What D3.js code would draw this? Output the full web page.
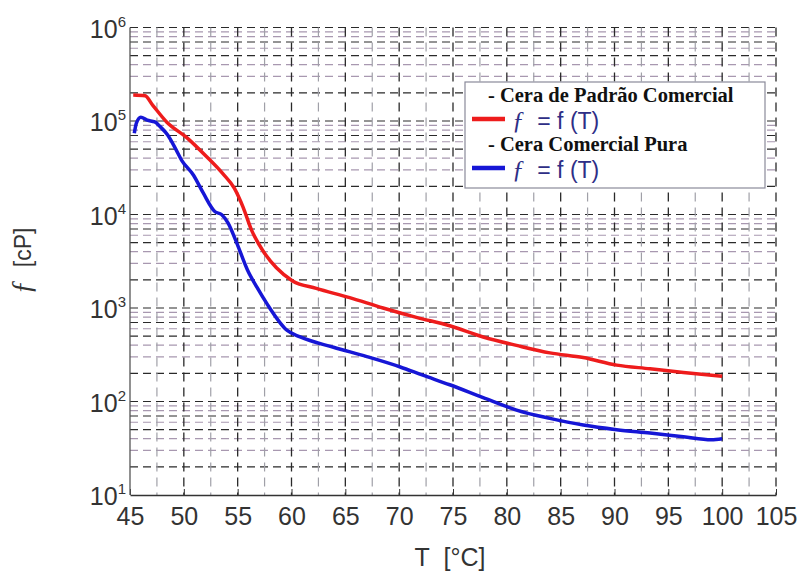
<!DOCTYPE html>
<html>
<head>
<meta charset="utf-8">
<script src="https://cdn.jsdelivr.net/npm/d3@7/dist/d3.min.js"></script>
<style>
  body { margin: 0; background: #fff; }
  svg { display: block; }
</style>
</head>
<body>
<div id="chart"></div>
<script>
//Data: temperature [°C] and viscosity [cP]
var tempRed = [45.3, 46.4, 47.1, 48.4, 50.3, 52.1, 53.6, 54.7, 55.5, 56.3, 57.3, 58.6, 60.1, 62.3, 65.4, 68.5, 71.6, 74.7, 77.8, 80.9, 84.0, 87.1, 90.2, 93.3, 96.4, 100];
var viscRed = [190000, 186000, 148000, 97700, 66000, 41700, 27500, 19000, 12000, 6760, 4170, 2690, 1950, 1620, 1290, 1000, 794, 646, 490, 398, 331, 295, 245, 224, 204, 186];
var tempBlue = [45.4, 45.6, 46.0, 46.6, 47.3, 47.8, 48.5, 49.2, 49.8, 50.9, 51.8, 52.9, 53.5, 54.1, 54.9, 55.9, 56.8, 57.7, 59.6, 60.8, 63.9, 67.0, 70.1, 72.2, 74.7, 77.8, 80.9, 84.0, 87.1, 90.2, 93.3, 96.4, 99.0, 100];
var viscBlue = [74100, 95500, 110000, 102000, 97700, 87100, 70800, 51300, 38000, 26300, 17000, 10700, 10000, 8130, 5010, 2570, 1660, 1120, 575, 490, 380, 302, 234, 191, 151, 110, 81, 66, 56, 50, 46, 42, 39, 40];
var xTicks = [45, 50, 55, 60, 65, 70, 75, 80, 85, 90, 95, 100, 105];
var xMinor = [47.5, 52.5, 57.5, 62.5, 67.5, 72.5, 77.5, 82.5, 87.5, 92.5, 97.5, 102.5];
var yDecades = [1, 2, 3, 4, 5, 6];
var legendNames = ["- Cera de Padrão Comercial", "- Cera Comercial Pura"];
var lineColors = ["#ee1c1c", "#1616d6"];

//Set sizes
var width = 800, height = 572;
var plot = { left: 130, right: 776, top: 27.5, bottom: 495 };

var x = d3.scaleLinear().domain([45, 105]).range([plot.left, plot.right]);
var y = d3.scaleLog().domain([10, 1e6]).range([plot.bottom, plot.top]);

var svg = d3.select("#chart").append("svg")
  .attr("width", width)
  .attr("height", height);

//Grid lines
var grid = svg.append("g").attr("class", "grid");
var minorVals = [];
yDecades.forEach(function(e) {
  if (e == 6) return;
  for (var k = 2; k <= 9; k++) minorVals.push({ v: k * Math.pow(10, e), k: k });
});
var darkMinor = [2, 5, 7];
grid.selectAll("line.hminor")
  .data(minorVals)
  .enter().append("line")
  .attr("class", "hminor")
  .attr("x1", plot.left).attr("x2", plot.right)
  .attr("y1", d => y(d.v)).attr("y2", d => y(d.v))
  .attr("stroke", d => darkMinor.indexOf(d.k) >= 0 ? "#2a2a2a" : "#a898b0")
  .attr("stroke-width", 1.2)
  .attr("stroke-dasharray", "8,5");
grid.selectAll("line.hmajor")
  .data(yDecades.slice(1))
  .enter().append("line")
  .attr("class", "hmajor")
  .attr("x1", plot.left).attr("x2", plot.right)
  .attr("y1", d => y(Math.pow(10, d))).attr("y2", d => y(Math.pow(10, d)))
  .attr("stroke", "#2a2a2a")
  .attr("stroke-width", 1.2)
  .attr("stroke-dasharray", "8,5");
grid.selectAll("line.vminor")
  .data(xMinor)
  .enter().append("line")
  .attr("class", "vminor")
  .attr("x1", d => x(d)).attr("x2", d => x(d))
  .attr("y1", plot.top).attr("y2", plot.bottom)
  .attr("stroke", "#a0a0a8")
  .attr("stroke-width", 1.2)
  .attr("stroke-dasharray", "9,6");
grid.selectAll("line.vmajor")
  .data(xTicks.slice(1))
  .enter().append("line")
  .attr("class", "vmajor")
  .attr("x1", d => x(d)).attr("x2", d => x(d))
  .attr("y1", plot.top).attr("y2", plot.bottom)
  .attr("stroke", "#2a2a2a")
  .attr("stroke-width", 1.3)
  .attr("stroke-dasharray", "9,6");

//Axes
var xAxis = svg.append("g")
  .attr("transform", "translate(0," + plot.bottom + ")")
  .call(d3.axisBottom(x).tickValues(xTicks).tickSizeInner(-6).tickSizeOuter(0).tickPadding(12));
xAxis.select(".domain").attr("stroke", "#333").attr("stroke-width", 1.5);
xAxis.selectAll(".tick line").attr("stroke", "#333");
xAxis.selectAll("text")
  .attr("font-family", "Liberation Sans, Arial, sans-serif")
  .attr("font-size", 25)
  .attr("fill", "#333");

svg.append("line")
  .attr("x1", plot.left).attr("x2", plot.left)
  .attr("y1", plot.top).attr("y2", plot.bottom)
  .attr("stroke", "#555").attr("stroke-width", 1.3);

var yLab = svg.append("g").selectAll("text")
  .data(yDecades)
  .enter().append("text")
  .attr("x", plot.left - 4)
  .attr("y", d => y(Math.pow(10, d)) + 10)
  .attr("text-anchor", "end")
  .attr("font-family", "Liberation Sans, Arial, sans-serif")
  .attr("font-size", 25)
  .attr("fill", "#333");
yLab.append("tspan").text("10");
yLab.append("tspan").attr("font-size", 15).attr("dy", -11).text(d => d);

//Curves
var line = d3.line()
  .x(d => x(d[0]))
  .y(d => y(d[1]))
  .curve(d3.curveMonotoneX);
var series = [d3.zip(tempRed, viscRed), d3.zip(tempBlue, viscBlue)];
svg.selectAll("path.curve")
  .data(series)
  .enter().append("path")
  .attr("class", "curve")
  .attr("d", line)
  .attr("fill", "none")
  .attr("stroke", (d, i) => lineColors[i])
  .attr("stroke-width", 3.5)
  .attr("stroke-linejoin", "round");

//Axis titles
svg.append("text")
  .attr("x", 450).attr("y", 566)
  .attr("text-anchor", "middle")
  .attr("font-family", "Liberation Sans, Arial, sans-serif")
  .attr("font-size", 25)
  .attr("fill", "#333")
  .text("T\u00a0\u00a0[°C]");
var yt = svg.append("text")
  .attr("transform", "translate(31,261) rotate(-90)")
  .attr("text-anchor", "middle")
  .attr("font-family", "Liberation Sans, Arial, sans-serif")
  .attr("font-size", 23)
  .attr("fill", "#333");
yt.append("tspan").attr("font-family", "Liberation Serif, serif").attr("font-style", "italic").attr("font-size", 29).text("ƒ");
yt.append("tspan").text("\u00a0\u00a0[cP]");

//Legend
var legend = svg.append("g");
legend.append("rect")
  .attr("x", 465).attr("y", 82)
  .attr("width", 300).attr("height", 106)
  .attr("fill", "#fff")
  .attr("stroke", "#8a8a9a")
  .attr("stroke-width", 1.2);
var item = legend.selectAll("g.item")
  .data(legendNames)
  .enter().append("g")
  .attr("class", "item")
  .attr("transform", (d, i) => "translate(0," + (i * 49) + ")");
item.append("text")
  .attr("x", 488).attr("y", 102)
  .attr("font-family", "Liberation Serif, Times New Roman, serif")
  .attr("font-weight", "bold")
  .attr("font-size", 20.5)
  .attr("fill", "#111")
  .text(d => d);
item.append("line")
  .attr("x1", 472).attr("x2", 505)
  .attr("y1", 119).attr("y2", 119)
  .attr("stroke", (d, i) => lineColors[i])
  .attr("stroke-width", 4.5);
var eq = item.append("text")
  .attr("x", 512).attr("y", 129)
  .attr("font-family", "Liberation Sans, Arial, sans-serif")
  .attr("font-size", 23)
  .attr("fill", "#2e2e86");
eq.append("tspan").attr("font-family", "Liberation Serif, serif").attr("font-style", "italic").attr("font-size", 25).text("ƒ");
eq.append("tspan").text("\u00a0\u00a0= f (T)");
</script>
</body>
</html>
